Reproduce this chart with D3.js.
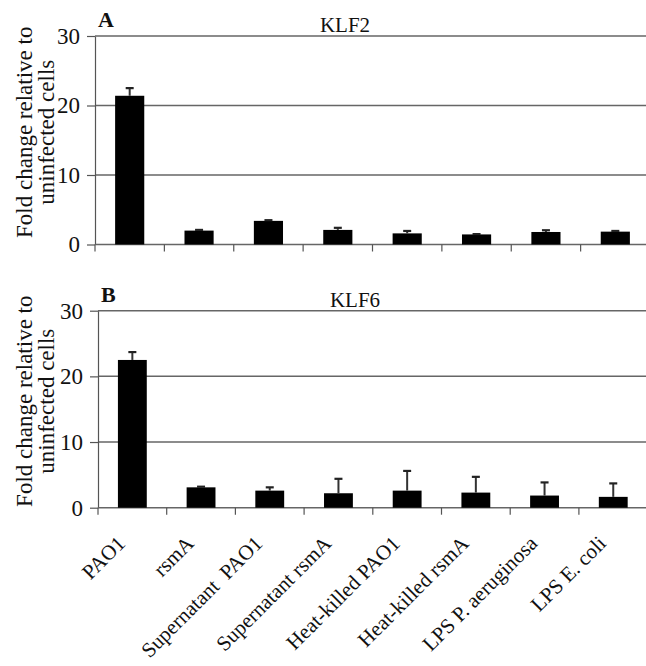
<!DOCTYPE html>
<html>
<head>
<meta charset="utf-8">
<script src="https://cdn.jsdelivr.net/npm/d3@7"></script>
<style>
  body { margin: 0; background: #fff; }
  text { font-family: "Liberation Serif", "Times New Roman", serif; fill: #111; }
</style>
</head>
<body>
<svg id="chart" width="646" height="666"></svg>
<script>
var categories = ["PAO1", "rsmA", "Supernatant  PAO1", "Supernatant rsmA", "Heat-killed PAO1",
    "Heat-killed rsmA", "LPS P. aeruginosa", "LPS E. coli"];
var klf2Values = [21.4, 2.0, 3.4, 2.1, 1.6, 1.45, 1.8, 1.85];
var klf2Errors = [1.1, 0.1, 0.1, 0.3, 0.35, 0.05, 0.25, 0.1];
var klf6Values = [22.5, 3.1, 2.6, 2.2, 2.6, 2.3, 1.85, 1.65];
var klf6Errors = [1.2, 0.1, 0.5, 2.2, 3.0, 2.4, 2.0, 2.05];
var yTicks = [0, 10, 20, 30];
var yLabel = ["Fold change relative to", "uninfected cells"];

const svg = d3.select('#chart');

function DrawPanel(p) {
    var data = categories.map(function (c, i) {
        return { cat: c, value: p.values[i], err: p.errors[i] };
    });

    let xScale = d3.scaleBand().domain(categories).range([p.left, p.right]).padding(0);
    let yScale = d3.scaleLinear().domain([0, 30]).range([p.bottom, p.top]);

    const g = svg.append('g');

    // gridlines (10, 20, 30)
    g.selectAll('.grid')
        .data(yTicks.filter(d => d > 0))
        .enter()
        .append('line')
        .attr('x1', p.left).attr('x2', 646)
        .attr('y1', d => yScale(d)).attr('y2', d => yScale(d))
        .attr('stroke', '#666').attr('stroke-width', 1.5);

    // y axis
    let axisLeft = d3.axisLeft(yScale).tickValues(yTicks).tickSize(8).tickPadding(7).tickSizeOuter(0);
    const ya = g.append('g').attr('transform', 'translate(' + p.left + ',0)').call(axisLeft);
    ya.select('.domain').attr('stroke', '#555').attr('stroke-width', 1.2);
    ya.selectAll('.tick line').attr('stroke', '#555').attr('stroke-width', 1.2);
    ya.selectAll('.tick text')
        .attr('font-size', 23).attr('font-family', '"Liberation Serif", serif').attr('fill', '#111');

    // x axis line and boundary ticks
    g.append('line')
        .attr('x1', p.left).attr('x2', 646)
        .attr('y1', p.bottom).attr('y2', p.bottom)
        .attr('stroke', '#666').attr('stroke-width', 1.5);
    g.selectAll('.xtick')
        .data(categories)
        .enter()
        .append('line')
        .attr('x1', d => xScale(d)).attr('x2', d => xScale(d))
        .attr('y1', p.bottom).attr('y2', p.bottom + 7)
        .attr('stroke', '#555').attr('stroke-width', 1.2);

    // bars
    var bw = xScale.bandwidth() * 0.42;
    g.selectAll('.bar')
        .data(data)
        .enter()
        .append('rect')
        .attr('x', d => xScale(d.cat) + xScale.bandwidth() / 2 - bw / 2)
        .attr('y', d => yScale(d.value))
        .attr('width', bw)
        .attr('height', d => p.bottom - yScale(d.value))
        .attr('fill', '#000');

    // error bars (upper only)
    var eb = g.selectAll('.err').data(data).enter().append('g');
    eb.append('line')
        .attr('x1', d => xScale(d.cat) + xScale.bandwidth() / 2)
        .attr('x2', d => xScale(d.cat) + xScale.bandwidth() / 2)
        .attr('y1', d => yScale(d.value))
        .attr('y2', d => yScale(d.value + d.err))
        .attr('stroke', '#333').attr('stroke-width', 2);
    eb.append('line')
        .attr('x1', d => xScale(d.cat) + xScale.bandwidth() / 2 - 4)
        .attr('x2', d => xScale(d.cat) + xScale.bandwidth() / 2 + 4)
        .attr('y1', d => yScale(d.value + d.err))
        .attr('y2', d => yScale(d.value + d.err))
        .attr('stroke', '#222').attr('stroke-width', 2.2);

    // letter and title
    g.append('text').attr('x', p.left + 3).attr('y', p.top - 9)
        .attr('font-size', 22).attr('font-weight', 'bold').text(p.letter);
    g.append('text').attr('x', p.titleX).attr('y', p.top - 4)
        .attr('text-anchor', 'middle').attr('font-size', 21).text(p.title);

    // y label, two lines
    var mid = (p.top + p.bottom) / 2 - 8;
    g.selectAll('.ylab')
        .data(yLabel)
        .enter()
        .append('text')
        .attr('transform', (d, i) => 'translate(' + (32 + i * 22) + ',' + mid + ') rotate(-90)')
        .attr('text-anchor', 'middle')
        .attr('font-size', 23)
        .text(d => d);

    // category labels
    if (p.showLabels) {
        g.selectAll('.xlab')
            .data(categories)
            .enter()
            .append('text')
            .attr('transform', d => 'translate(' + (xScale(d) + xScale.bandwidth() / 2 - 6) + ',' + (p.bottom + 37) + ') rotate(-45)')
            .attr('text-anchor', 'end')
            .attr('font-size', 21)
            .style('white-space', 'pre')
            .text(d => d);
    }
}

DrawPanel({ letter: 'A', title: 'KLF2', values: klf2Values, errors: klf2Errors,
    top: 36, bottom: 244.5, left: 95, right: 650, titleX: 345, showLabels: false });
DrawPanel({ letter: 'B', title: 'KLF6', values: klf6Values, errors: klf6Errors,
    top: 310.7, bottom: 507.7, left: 98, right: 647.6, titleX: 355, showLabels: true });
</script>
</body>
</html>
